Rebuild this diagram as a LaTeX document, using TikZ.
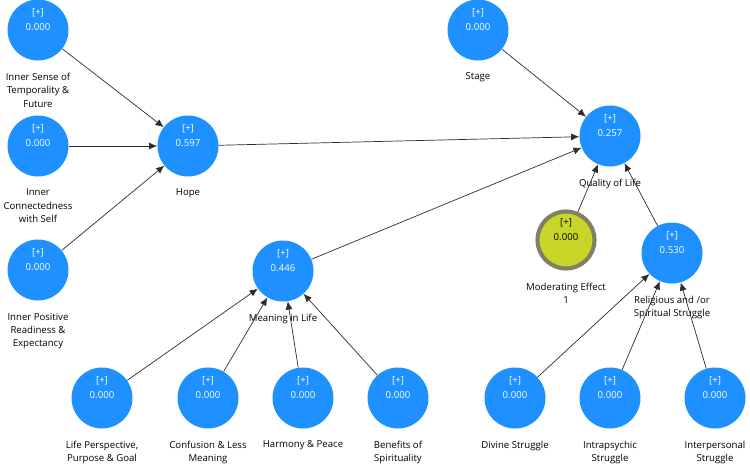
\documentclass[tikz,border=0pt]{standalone}
\usepackage{fontspec}
\setmainfont{Open Sans}
\usetikzlibrary{arrows.meta,positioning}
\definecolor{nodeblue}{RGB}{30,144,255}
\definecolor{modfill}{RGB}{200,214,40}
\definecolor{modring}{RGB}{128,128,100}
\definecolor{linegray}{RGB}{45,45,45}
\tikzstyle{LATENT} = [circle, fill=nodeblue, minimum size=1.83cm, inner sep=0pt]
\tikzstyle{MODERATOR} = [circle, fill=modfill, draw=modring, line width=3.5pt, minimum size=1.71cm, inner sep=0pt]
\tikzstyle{VALUE} = [align=center, text=white, inner sep=0pt, font=\fontsize{8.2}{12.8}\selectfont, yshift=0.31cm]
\tikzstyle{VALUE_2} = [VALUE, text=black]
\tikzstyle{NAME} = [align=center, inner sep=0pt, font=\fontsize{8.2}{11.5}\selectfont]
\tikzstyle{ARROW} = [draw=linegray, line width=0.6pt, -{Latex[length=7pt,width=6pt]}]

\begin{document}
\begin{tikzpicture}[x=0.03cm, y=-0.03cm]
\useasboundingbox (0,0) rectangle (750,471);
% Place nodes
\node [LATENT] (ist) at (38,30) {};
\node [LATENT] (icw) at (38,146) {};
\node [LATENT] (ipr) at (38,270) {};
\node [LATENT] (hope) at (188,146) {};
\node [LATENT] (stage) at (478,30) {};
\node [LATENT] (qol) at (610,136) {};
\node [MODERATOR] (mod) at (566,240) {};
\node [LATENT] (rss) at (672,253) {};
\node [LATENT] (mil) at (283,271) {};
\node [LATENT] (lpp) at (102,398) {};
\node [LATENT] (cfl) at (208,398) {};
\node [LATENT] (hap) at (303,398) {};
\node [LATENT] (bos) at (398,398) {};
\node [LATENT] (dis) at (515,398) {};
\node [LATENT] (ins) at (610,398) {};
\node [LATENT] (ips) at (715,398) {};
% Values
\node [VALUE] (ist_v) at (ist) {[+]\\0.000};
\node [VALUE] (icw_v) at (icw) {[+]\\0.000};
\node [VALUE] (ipr_v) at (ipr) {[+]\\0.000};
\node [VALUE] (hope_v) at (hope) {[+]\\0.597};
\node [VALUE] (stage_v) at (stage) {[+]\\0.000};
\node [VALUE] (qol_v) at (qol) {[+]\\0.257};
\node [VALUE_2] (mod_v) at (mod) {[+]\\0.000};
\node [VALUE] (rss_v) at (rss) {[+]\\0.530};
\node [VALUE] (mil_v) at (mil) {[+]\\0.446};
\node [VALUE] (lpp_v) at (lpp) {[+]\\0.000};
\node [VALUE] (cfl_v) at (cfl) {[+]\\0.000};
\node [VALUE] (hap_v) at (hap) {[+]\\0.000};
\node [VALUE] (bos_v) at (bos) {[+]\\0.000};
\node [VALUE] (dis_v) at (dis) {[+]\\0.000};
\node [VALUE] (ins_v) at (ins) {[+]\\0.000};
\node [VALUE] (ips_v) at (ips) {[+]\\0.000};
% Names
\node [NAME, below=0.36cm of ist] (ist_l) {Inner Sense of\\Temporality \&\\Future};
\node [NAME, below=0.36cm of icw] (icw_l) {Inner\\Connectedness\\with Self};
\node [NAME, below=0.36cm of ipr] (ipr_l) {Inner Positive\\Readiness \&\\Expectancy};
\node [NAME, below=0.36cm of hope] (hope_l) {Hope};
\node [NAME, below=0.36cm of stage] (stage_l) {Stage};
\node [NAME, below=0.36cm of qol] (qol_l) {Quality of Life};
\node [NAME, below=0.36cm of mod] (mod_l) {Moderating Effect\\1};
\node [NAME, below=0.36cm of rss] (rss_l) {Religious and /or\\Spiritual Struggle};
\node [NAME, below=0.36cm of mil] (mil_l) {Meaning in Life};
\node [NAME, below=0.36cm of lpp] (lpp_l) {Life Perspective,\\Purpose \& Goal};
\node [NAME, below=0.36cm of cfl] (cfl_l) {Confusion \& Less\\Meaning};
\node [NAME, below=0.36cm of hap] (hap_l) {Harmony \& Peace};
\node [NAME, below=0.36cm of bos] (bos_l) {Benefits of\\Spirituality};
\node [NAME, below=0.36cm of dis] (dis_l) {Divine Struggle};
\node [NAME, below=0.36cm of ins] (ins_l) {Intrapsychic\\Struggle};
\node [NAME, below=0.36cm of ips] (ips_l) {Interpersonal\\Struggle};
% ARROWS
\path [ARROW] (ist) -- (hope);
\path [ARROW] (icw) -- (hope);
\path [ARROW] (ipr) -- (hope);
\path [ARROW] (hope) -- (qol);
\path [ARROW] (stage) -- (qol);
\path [ARROW] (mil) -- (qol);
\path [ARROW] (mod) -- (qol);
\path [ARROW] (rss) -- (qol);
\path [ARROW] (lpp) -- (mil);
\path [ARROW] (cfl) -- (mil);
\path [ARROW] (hap) -- (mil);
\path [ARROW] (bos) -- (mil);
\path [ARROW] (dis) -- (rss);
\path [ARROW] (ins) -- (rss);
\path [ARROW] (ips) -- (rss);
\end{tikzpicture}
\end{document}
